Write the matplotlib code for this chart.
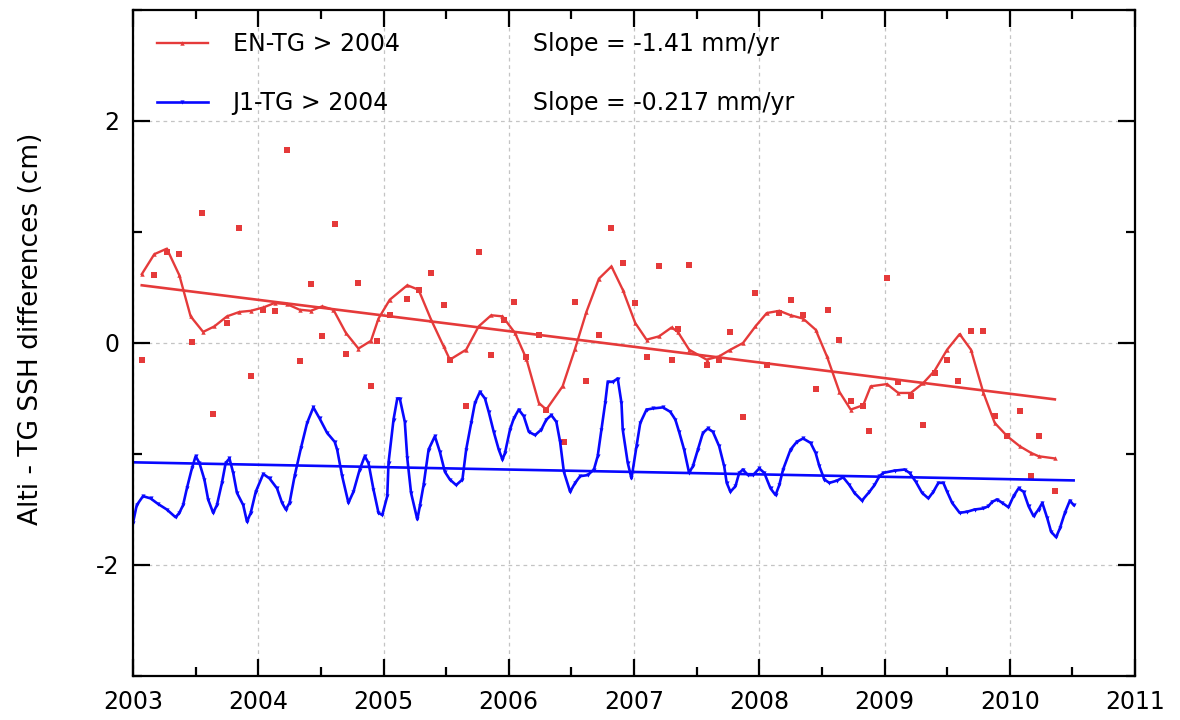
import matplotlib
matplotlib.use("Agg")
import matplotlib.pyplot as plt
from matplotlib.ticker import MultipleLocator
import numpy as np

# ENVISAT - tide gauge differences, one value per 35-day cycle (cm)
en_t = [2003.07, 2003.17, 2003.27, 2003.37, 2003.47, 2003.55, 2003.64, 2003.75, 2003.85, 2003.94,
        2004.04, 2004.13, 2004.23, 2004.33, 2004.42, 2004.51, 2004.61, 2004.70, 2004.80, 2004.90,
        2004.95, 2005.05, 2005.19, 2005.28, 2005.38, 2005.48, 2005.53, 2005.66, 2005.76, 2005.86,
        2005.96, 2006.04, 2006.14, 2006.24, 2006.30, 2006.44, 2006.53, 2006.62, 2006.72, 2006.82,
        2006.91, 2007.01, 2007.10, 2007.20, 2007.30, 2007.35, 2007.44, 2007.58, 2007.68, 2007.77,
        2007.87, 2007.97, 2008.06, 2008.16, 2008.25, 2008.35, 2008.45, 2008.55, 2008.64, 2008.73,
        2008.83, 2008.88, 2009.02, 2009.11, 2009.21, 2009.31, 2009.40, 2009.50, 2009.59, 2009.69,
        2009.79, 2009.88, 2009.98, 2010.08, 2010.17, 2010.23, 2010.36]
en_v = [-0.15, 0.61, 0.82, 0.80, 0.01, 1.17, -0.64, 0.18, 1.04, -0.30,
        0.30, 0.29, 1.74, -0.16, 0.53, 0.06, 1.07, -0.10, 0.54, -0.39,
        0.02, 0.25, 0.40, 0.48, 0.63, 0.34, -0.15, -0.57, 0.82, -0.11,
        0.21, 0.37, -0.13, 0.07, -0.60, -0.89, 0.37, -0.34, 0.07, 1.04,
        0.72, 0.36, -0.13, 0.69, -0.15, 0.13, 0.70, -0.20, -0.15, 0.10,
        -0.67, 0.45, -0.20, 0.27, 0.39, 0.25, -0.41, 0.30, 0.03, -0.52,
        -0.57, -0.79, 0.59, -0.35, -0.48, -0.74, -0.27, -0.15, -0.34, 0.11,
        0.11, -0.66, -0.84, -0.61, -1.20, -0.84, -1.33]

# Smoothed EN-TG series (cm)
en_s_t = [2003.07, 2003.17, 2003.27, 2003.37, 2003.46, 2003.56, 2003.65, 2003.75, 2003.85, 2003.94,
          2004.04, 2004.13, 2004.23, 2004.33, 2004.42, 2004.51, 2004.60, 2004.70, 2004.80, 2004.90,
          2004.96, 2005.05, 2005.19, 2005.28, 2005.38, 2005.48, 2005.53, 2005.66, 2005.76, 2005.86,
          2005.95, 2006.05, 2006.14, 2006.24, 2006.30, 2006.43, 2006.53, 2006.62, 2006.72, 2006.82,
          2006.91, 2007.01, 2007.10, 2007.20, 2007.30, 2007.35, 2007.44, 2007.58, 2007.68, 2007.77,
          2007.87, 2007.97, 2008.06, 2008.16, 2008.25, 2008.35, 2008.45, 2008.54, 2008.64, 2008.73,
          2008.83, 2008.89, 2009.02, 2009.11, 2009.21, 2009.31, 2009.40, 2009.50, 2009.60, 2009.69,
          2009.79, 2009.88, 2009.98, 2010.08, 2010.17, 2010.23, 2010.36]
en_s_v = [0.62, 0.80, 0.85, 0.61, 0.24, 0.10, 0.15, 0.24, 0.28, 0.29,
          0.32, 0.36, 0.35, 0.30, 0.29, 0.33, 0.30, 0.09, -0.05, 0.02,
          0.22, 0.39, 0.52, 0.48, 0.21, -0.03, -0.15, -0.06, 0.15, 0.25,
          0.24, 0.09, -0.14, -0.54, -0.60, -0.39, -0.05, 0.28, 0.58, 0.69,
          0.48, 0.18, 0.03, 0.06, 0.14, 0.10, -0.06, -0.15, -0.12, -0.06,
          0.00, 0.15, 0.27, 0.29, 0.25, 0.22, 0.12, -0.12, -0.44, -0.60,
          -0.56, -0.39, -0.37, -0.45, -0.45, -0.36, -0.25, -0.06, 0.08, -0.06,
          -0.45, -0.72, -0.84, -0.93, -0.99, -1.02, -1.04]

# Jason-1 - tide gauge differences, smoothed (cm)
j1_t = [2003.00, 2003.03, 2003.08, 2003.14, 2003.20, 2003.27, 2003.34, 2003.37, 2003.40, 2003.43,
        2003.47, 2003.50, 2003.53, 2003.57, 2003.60, 2003.64, 2003.67, 2003.71, 2003.74, 2003.77,
        2003.80, 2003.83, 2003.88, 2003.91, 2003.94, 2003.98, 2004.04, 2004.09, 2004.15, 2004.19,
        2004.22, 2004.25, 2004.29, 2004.34, 2004.39, 2004.44, 2004.49, 2004.55, 2004.61, 2004.63,
        2004.67, 2004.72, 2004.76, 2004.81, 2004.85, 2004.88, 2004.92, 2004.96, 2004.99, 2005.03,
        2005.04, 2005.08, 2005.11, 2005.13, 2005.17, 2005.19, 2005.22, 2005.27, 2005.29, 2005.32,
        2005.36, 2005.41, 2005.45, 2005.49, 2005.53, 2005.58, 2005.63, 2005.66, 2005.70, 2005.73,
        2005.77, 2005.81, 2005.84, 2005.88, 2005.92, 2005.95, 2005.97, 2006.01, 2006.04, 2006.08,
        2006.12, 2006.16, 2006.21, 2006.26, 2006.30, 2006.34, 2006.38, 2006.41, 2006.44, 2006.49,
        2006.53, 2006.57, 2006.63, 2006.68, 2006.71, 2006.74, 2006.77, 2006.79, 2006.83, 2006.87,
        2006.90, 2006.91, 2006.95, 2006.98, 2007.02, 2007.05, 2007.10, 2007.15, 2007.23, 2007.29,
        2007.33, 2007.36, 2007.40, 2007.44, 2007.47, 2007.51, 2007.55, 2007.59, 2007.63, 2007.68,
        2007.72, 2007.74, 2007.77, 2007.81, 2007.84, 2007.87, 2007.91, 2007.95, 2008.00, 2008.04,
        2008.09, 2008.13, 2008.16, 2008.19, 2008.25, 2008.30, 2008.35, 2008.41, 2008.45, 2008.48,
        2008.52, 2008.56, 2008.62, 2008.67, 2008.72, 2008.76, 2008.82, 2008.88, 2008.92, 2008.96,
        2008.99, 2009.08, 2009.16, 2009.20, 2009.25, 2009.30, 2009.35, 2009.39, 2009.43, 2009.47,
        2009.50, 2009.54, 2009.60, 2009.66, 2009.72, 2009.79, 2009.83, 2009.86, 2009.90, 2009.94,
        2009.99, 2010.03, 2010.07, 2010.11, 2010.15, 2010.19, 2010.23, 2010.26, 2010.30, 2010.33,
        2010.37, 2010.40, 2010.44, 2010.48, 2010.51]
j1_v = [-1.62, -1.46, -1.38, -1.40, -1.45, -1.50, -1.57, -1.53, -1.46, -1.31,
        -1.13, -1.02, -1.08, -1.23, -1.41, -1.53, -1.46, -1.26, -1.08, -1.04,
        -1.17, -1.35, -1.46, -1.61, -1.53, -1.34, -1.18, -1.22, -1.31, -1.44,
        -1.50, -1.44, -1.20, -0.95, -0.72, -0.58, -0.68, -0.81, -0.89, -0.96,
        -1.20, -1.44, -1.34, -1.14, -1.02, -1.08, -1.32, -1.53, -1.55, -1.38,
        -1.08, -0.69, -0.50, -0.50, -0.71, -1.04, -1.35, -1.59, -1.47, -1.28,
        -0.96, -0.84, -0.98, -1.16, -1.23, -1.28, -1.23, -0.96, -0.72, -0.54,
        -0.44, -0.50, -0.62, -0.80, -0.96, -1.05, -0.99, -0.78, -0.68, -0.60,
        -0.66, -0.80, -0.83, -0.78, -0.69, -0.65, -0.71, -0.89, -1.16, -1.34,
        -1.26, -1.20, -1.19, -1.14, -1.02, -0.78, -0.54, -0.35, -0.35, -0.32,
        -0.54, -0.78, -1.08, -1.22, -0.93, -0.72, -0.60, -0.59, -0.58, -0.62,
        -0.69, -0.80, -0.96, -1.17, -1.11, -0.96, -0.81, -0.77, -0.80, -0.93,
        -1.11, -1.26, -1.34, -1.29, -1.17, -1.14, -1.19, -1.19, -1.13, -1.17,
        -1.31, -1.37, -1.28, -1.14, -0.96, -0.89, -0.86, -0.90, -0.99, -1.11,
        -1.23, -1.26, -1.24, -1.21, -1.28, -1.35, -1.42, -1.34, -1.28, -1.20,
        -1.17, -1.15, -1.14, -1.17, -1.25, -1.35, -1.40, -1.34, -1.26, -1.26,
        -1.34, -1.44, -1.53, -1.52, -1.50, -1.49, -1.47, -1.43, -1.41, -1.44,
        -1.48, -1.38, -1.31, -1.34, -1.47, -1.56, -1.50, -1.44, -1.58, -1.70,
        -1.75, -1.67, -1.53, -1.42, -1.46]

# Linear trends (slopes in cm/yr, from the labels)
en_slope = -0.141
en_fit_t = [2003.07, 2010.36]
en_fit_y0 = 0.52
j1_slope = -0.0217
j1_fit_t = [2003.00, 2010.51]
j1_fit_y0 = -1.075

x_ticks = [2003, 2004, 2005, 2006, 2007, 2008, 2009, 2010, 2011]
y_ticks = [-2, 0, 2]

RED = "#e53a3a"
BLUE = "#0808ff"

fig = plt.figure(figsize=(11.8, 7.2), dpi=100)
ax = fig.add_axes([133 / 1180, 1 - 676 / 720, 1002 / 1180, 666 / 720])

ax.grid(True, which="major", color="#c4c4c4", linestyle=(0, (3, 3)), linewidth=0.9)
ax.set_axisbelow(True)

# EN-TG
ax.plot(en_t, en_v, linestyle="none", marker="s", markersize=4.4, color=RED,
        markeredgewidth=0)
en_line, = ax.plot(en_s_t, en_s_v, color=RED, linewidth=1.7, marker="^",
                   markersize=3.2, markeredgewidth=0, label="EN-TG > 2004")
en_fit_t = np.array(en_fit_t)
ax.plot(en_fit_t, en_fit_y0 + en_slope * (en_fit_t - en_fit_t[0]),
        color=RED, linewidth=1.9)

# J1-TG
j1_line, = ax.plot(j1_t, j1_v, color=BLUE, linewidth=1.9, marker="v",
                   markersize=3.0, markeredgewidth=0, label="J1-TG > 2004")
j1_fit_t = np.array(j1_fit_t)
ax.plot(j1_fit_t, j1_fit_y0 + j1_slope * (j1_fit_t - j1_fit_t[0]),
        color=BLUE, linewidth=1.9)

ax.set_xlim(2003, 2011)
ax.set_ylim(-3, 3)
ax.set_xticks(x_ticks)
ax.set_xticklabels([str(v) for v in x_ticks])
ax.set_yticks(y_ticks)
ax.set_yticklabels([str(v) for v in y_ticks])
ax.xaxis.set_minor_locator(MultipleLocator(0.5))
ax.yaxis.set_minor_locator(MultipleLocator(1))

ax.tick_params(which="both", direction="in", top=True, right=True, width=1.6,
               colors="black", labelsize=17)
ax.tick_params(which="major", length=12)
ax.tick_params(which="minor", length=6.5)
ax.tick_params(axis="x", pad=10)
ax.tick_params(axis="y", pad=10)
for sp in ax.spines.values():
    sp.set_linewidth(1.6)

ax.set_ylabel("Alti - TG SSH differences (cm)", fontsize=19)
ax.yaxis.set_label_coords(-0.089, 0.521)

leg = ax.legend(handles=[en_line, j1_line], loc="upper left",
                bbox_to_anchor=(0.024, 0.967), frameon=False, fontsize=17,
                handlelength=2.15, handletextpad=1.05, labelspacing=1.48,
                borderpad=0, borderaxespad=0)

ax.text(0.399, 0.949, "Slope = -1.41 mm/yr", transform=ax.transAxes,
        fontsize=17, va="center", ha="left")
ax.text(0.399, 0.860, "Slope = -0.217 mm/yr", transform=ax.transAxes,
        fontsize=17, va="center", ha="left")

fig.savefig("out.png", dpi=100)
